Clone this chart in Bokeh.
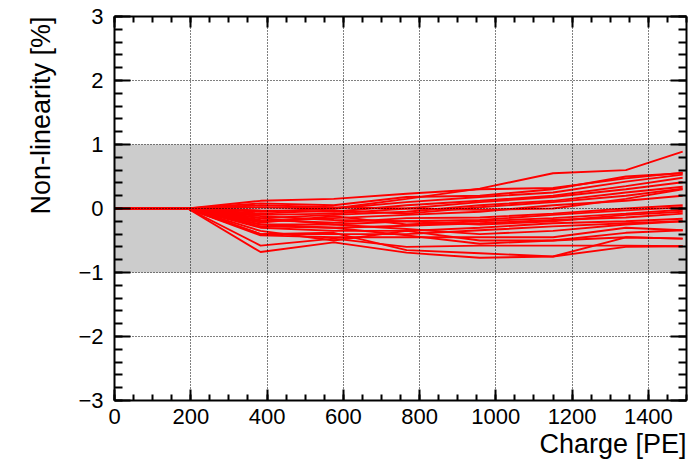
from bokeh.plotting import figure
from bokeh.models import BoxAnnotation, LinearAxis, SingleIntervalTicker, Range1d, Grid, Title
from bokeh.embed import file_html
from bokeh.resources import INLINE

# ---- data ----
charge = [0, 192, 383, 575, 766, 958, 1150, 1341, 1490]
ch01 = [0, 0, -0.05, 0.00, 0.15, 0.31, 0.55, 0.60, 0.89]
ch02 = [0, 0, 0.12, 0.15, 0.23, 0.30, 0.32, 0.47, 0.56]
ch03 = [0, 0, 0.08, 0.05, 0.18, 0.20, 0.30, 0.50, 0.55]
ch04 = [0, 0, 0.02, 0.00, 0.10, 0.18, 0.25, 0.42, 0.53]
ch05 = [0, 0, -0.03, -0.05, 0.05, 0.12, 0.20, 0.35, 0.48]
ch06 = [0, 0, -0.10, -0.08, 0.00, 0.10, 0.18, 0.30, 0.41]
ch07 = [0, 0, -0.15, -0.10, -0.05, 0.05, 0.12, 0.25, 0.34]
ch08 = [0, 0, -0.08, -0.03, -0.08, 0.02, 0.10, 0.20, 0.31]
ch09 = [0, 0, -0.20, -0.15, -0.10, -0.05, 0.05, 0.12, 0.20]
ch10 = [0, 0, -0.18, -0.22, -0.15, -0.14, -0.08, 0.00, 0.05]
ch11 = [0, 0, -0.25, -0.25, -0.20, -0.18, -0.10, -0.03, 0.02]
ch12 = [0, 0, -0.22, -0.12, -0.25, -0.20, -0.15, -0.08, -0.02]
ch13 = [0, 0, -0.28, -0.30, -0.27, -0.23, -0.18, -0.14, -0.08]
ch14 = [0, 0, -0.30, -0.35, -0.35, -0.30, -0.23, -0.20, -0.16]
ch15 = [0, 0, -0.40, -0.40, -0.40, -0.34, -0.28, -0.23, -0.20]
ch16 = [0, 0, -0.42, -0.45, -0.45, -0.45, -0.45, -0.30, -0.34]
ch17 = [0, 0, -0.35, -0.50, -0.35, -0.50, -0.50, -0.45, -0.47]
ch18 = [0, 0, -0.58, -0.47, -0.60, -0.58, -0.58, -0.58, -0.59]
ch19 = [0, 0, -0.68, -0.53, -0.69, -0.77, -0.75, -0.45, -0.47]
ch20 = [0, 0, -0.40, -0.38, -0.65, -0.70, -0.75, -0.60, -0.59]
ch21 = [0, 0, -0.12, -0.18, -0.20, -0.25, -0.20, -0.10, -0.05]
ch22 = [0, 0, 0.05, 0.02, 0.00, -0.02, 0.00, 0.15, 0.30]
ch23 = [0, 0, -0.25, -0.30, -0.42, -0.55, -0.50, -0.38, -0.34]
ch24 = [0, 0, -0.15, -0.25, -0.32, -0.40, -0.35, -0.25, -0.20]

series = [ch01, ch02, ch03, ch04, ch05, ch06, ch07, ch08, ch09, ch10, ch11, ch12,
          ch13, ch14, ch15, ch16, ch17, ch18, ch19, ch20, ch21, ch22, ch23, ch24]

band_low, band_high = -1, 1
x_min, x_max = 0, 1500
y_min, y_max = -3, 3
y_ticks = [-3, -2, -1, 0, 1, 2, 3]
y_tick_labels = ["\u22123", "\u22122", "\u22121", "0", "1", "2", "3"]
x_title = "Charge [PE]"
y_title = "Non-linearity [%]"

FONT = "Liberation Sans"

p = figure(width=688, height=463, x_range=Range1d(x_min, x_max), y_range=Range1d(y_min, y_max),
           output_backend="svg", toolbar_location=None,
           min_border_left=114, min_border_right=2, min_border_top=16, min_border_bottom=63,
           x_axis_location=None, y_axis_location=None)
p.outline_line_color = None
p.background_fill_color = "white"
p.border_fill_color = "white"

# gray band
band = BoxAnnotation(bottom=band_low, top=band_high, fill_color="#cccccc", fill_alpha=1.0,
                     line_color=None, level="image")
p.add_layout(band)

for s in series:
    p.line(charge, s, line_color="#ff0000", line_width=1.9)

xt = SingleIntervalTicker(interval=200, num_minor_ticks=4)
yt = SingleIntervalTicker(interval=1, num_minor_ticks=5)


def style(ax, maj, mnr, labels):
    ax.major_tick_in = maj
    ax.major_tick_out = 0
    ax.minor_tick_in = mnr
    ax.minor_tick_out = 0
    ax.axis_line_width = 2
    ax.major_tick_line_width = 2
    ax.minor_tick_line_width = 2
    ax.axis_line_color = "black"
    ax.major_tick_line_color = "black"
    ax.minor_tick_line_color = "black"
    if labels:
        ax.major_label_text_font = FONT
        ax.major_label_text_font_size = "22px"
        ax.major_label_text_color = "black"
    else:
        ax.major_label_text_font_size = "1px"
        ax.major_label_text_color = None
        ax.major_label_standoff = 0


xb = LinearAxis(ticker=xt)
style(xb, 11, 6, True)
xb.major_label_standoff = 8
p.add_layout(xb, "below")

yl = LinearAxis(ticker=yt)
style(yl, 16, 8, True)
yl.major_label_standoff = 11
yl.major_label_overrides = dict(zip(y_ticks, y_tick_labels))
p.add_layout(yl, "left")

xa = LinearAxis(ticker=xt)
style(xa, 11, 6, False)
p.add_layout(xa, "above")

yr = LinearAxis(ticker=yt)
style(yr, 16, 8, False)
p.add_layout(yr, "right")

tx = Title(text=x_title, align="right", text_font=FONT, text_font_size="27px",
           text_font_style="normal", text_color="black", standoff=0, offset=0,
           vertical_align="bottom")
p.add_layout(tx, "below")
ty = Title(text=y_title, align="right", text_font=FONT, text_font_size="27px",
           text_font_style="normal", text_color="black", standoff=40, offset=0)
p.add_layout(ty, "left")

for g in list(p.center):
    if isinstance(g, Grid):
        p.center.remove(g)
gx = Grid(dimension=0, ticker=xt, grid_line_color="black", grid_line_width=1,
          grid_line_dash="1 2", level="annotation")
gy = Grid(dimension=1, ticker=yt, grid_line_color="black", grid_line_width=1,
          grid_line_dash="1 2", level="annotation")
p.add_layout(gx, "center")
p.add_layout(gy, "center")

open("out.html", "w").write(file_html(p, INLINE))
